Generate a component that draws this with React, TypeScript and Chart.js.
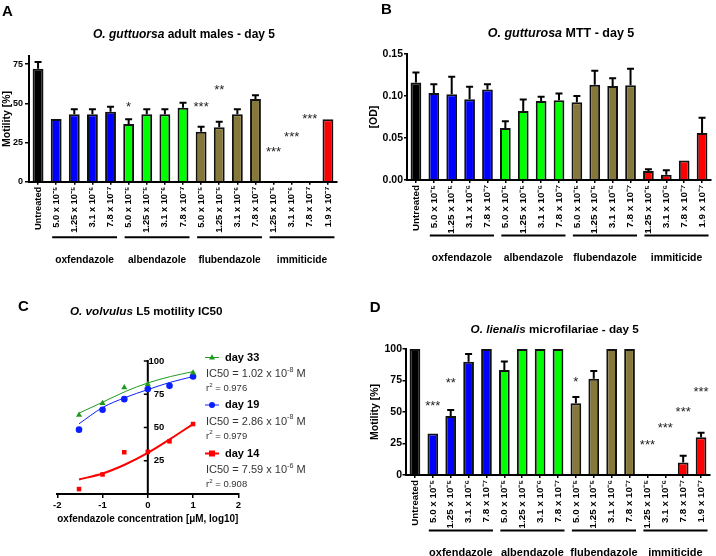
import React, { useEffect, useRef } from 'react';
import { Chart, registerables } from 'chart.js';

Chart.register(...registerables);

const FONT = "'Liberation Sans', Arial, Helvetica, sans-serif";

// ---------- shared categories (panels A, B, D) ----------
const categories = [
  'Untreated',
  '5.0 x 10⁻⁵', '1.25 x 10⁻⁵', '3.1 x 10⁻⁶', '7.8 x 10⁻⁷',
  '5.0 x 10⁻⁵', '1.25 x 10⁻⁵', '3.1 x 10⁻⁶', '7.8 x 10⁻⁷',
  '5.0 x 10⁻⁵', '1.25 x 10⁻⁵', '3.1 x 10⁻⁶', '7.8 x 10⁻⁷',
  '1.25 x 10⁻⁵', '3.1 x 10⁻⁶', '7.8 x 10⁻⁷', '1.9 x 10⁻⁷',
];
const groupNames = ['oxfendazole', 'albendazole', 'flubendazole', 'immiticide'];
const groupFirst = [1, 5, 9, 13];
const groupLast = [4, 8, 12, 16];

const BLACK = '#000000';
const BLUE = '#0000ff';
const LIME = '#00ff00';
const OLIVE = '#86783a';
const RED = '#ff0000';
const categoryColors = [
  BLACK, BLUE, BLUE, BLUE, BLUE, LIME, LIME, LIME, LIME,
  OLIVE, OLIVE, OLIVE, OLIVE, RED, RED, RED, RED,
];

// ---------- Panel A ----------
const motilityA = [72, 40, 43, 43, 44.6, 36.8, 43, 43, 47.2, 31.9, 34.7, 43, 52.7, 0, 0, 0, 39.8];
const errorA = [4.4, 0, 3.2, 3.2, 3.2, 3, 3.2, 3.2, 3.2, 3.1, 3.6, 3.2, 2.4, 0, 0, 0, 0];
const yTicksA = [0, 25, 50, 75];
const starTextA = ['*', '***', '**', '***', '***', '***'];
const starIdxA = [5, 9, 10, 13, 14, 15];
const starValA = [49.6, 49.6, 60.4, 20.9, 31, 41.9];

// ---------- Panel B ----------
const odB = [0.116, 0.1036, 0.102, 0.096, 0.1076, 0.062, 0.082, 0.094, 0.095, 0.0925, 0.1135, 0.112, 0.1127, 0.0107, 0.0063, 0.0233, 0.056];
const errorB = [0.012, 0.0104, 0.021, 0.015, 0.0064, 0.008, 0.0137, 0.005, 0.008, 0.0075, 0.0165, 0.009, 0.0198, 0.002, 0.0052, 0, 0.018];
const yTicksB = [0, 0.05, 0.1, 0.15];

// ---------- Panel D ----------
const motilityD = [100, 33, 46.8, 89.9, 100, 83.3, 100, 100, 100, 56.9, 76.4, 100, 100, 0, 0, 10, 29.9];
const errorD = [0, 0, 4.8, 6.1, 0, 6.7, 0, 0, 0, 5.1, 6.1, 0, 0, 0, 0, 5.3, 3.7];
const yTicksD = [0, 25, 50, 75, 100];
const starTextD = ['***', '**', '*', '***', '***', '***', '***'];
const starIdxD = [1, 2, 9, 13, 14, 15, 16];
const starValD = [57.1, 75.4, 76.2, 26.4, 39.7, 52.9, 68.8];

// ---------- Panel C ----------
const doseLog = [-1.52, -1.0, -0.52, 0, 0.48, 1.0];
const day33Points = [59.4, 68.3, 80.0, 82.5, null, 91.2];
const day19Points = [48.4, 63.3, 71.3, 79.0, 81.3, 88.3];
const day14Points = [3.7, 14.7, 31.4, 31.7, 39.6, 52.6];
const fitLog = [-1.52, -1.0, -0.5, 0, 0.5, 1.0];
const day33Fit = [60.8, 69.0, 77.0, 83.5, 88.3, 92.0];
const day19Fit = [52.8, 65.0, 72.5, 78.5, 84.0, 88.3];
const day14Fit = [10.9, 15.4, 22.2, 30.9, 41.4, 52.6];
const xTicksC = [-2, -1, 0, 1, 2];
const yTicksC = [25, 50, 75, 100];
const legendDays = ['day 33', 'day 19', 'day 14'];
const ic50Mantissa = ['1.02', '2.86', '7.59'];
const ic50Exponent = ['-8', '-8', '-6'];
const rSquared = ['0.976', '0.979', '0.908'];
const GREEN_C = '#1f9a1f';
const BLUE_C = '#0a1eff';
const RED_C = '#ff0000';
const legendColors = [GREEN_C, BLUE_C, RED_C];
const legendStyles = ['triangle', 'circle', 'rect'];
const legendLineW = [1, 1, 2];

// ---------- drawing helpers ----------
function drawTitle(ctx, italicPart, rest, x, y, size, align) {
  ctx.save();
  ctx.font = `italic bold ${size}px ${FONT}`;
  const w1 = ctx.measureText(italicPart).width;
  ctx.font = `bold ${size}px ${FONT}`;
  const w2 = ctx.measureText(rest).width;
  const start = align === 'left' ? x : x - (w1 + w2) / 2;
  ctx.textAlign = 'left';
  ctx.textBaseline = 'middle';
  ctx.fillStyle = '#000';
  ctx.font = `italic bold ${size}px ${FONT}`;
  ctx.fillText(italicPart, start, y);
  ctx.font = `bold ${size}px ${FONT}`;
  ctx.fillText(rest, start + w1, y);
  ctx.restore();
}

function drawLetter(ctx, letter, x, baseline) {
  ctx.save();
  ctx.font = `bold 15px ${FONT}`;
  ctx.fillStyle = '#000';
  ctx.textAlign = 'left';
  ctx.textBaseline = 'alphabetic';
  ctx.fillText(letter, x, baseline);
  ctx.restore();
}

function drawSupText(ctx, parts, x, y, size, color) {
  ctx.save();
  ctx.fillStyle = color;
  ctx.textAlign = 'left';
  ctx.textBaseline = 'middle';
  let cx = x;
  for (const [txt, sup] of parts) {
    const s = sup ? size * 0.65 : size;
    ctx.font = `${s}px ${FONT}`;
    ctx.fillText(txt, cx, sup ? y - size * 0.38 : y);
    cx += ctx.measureText(txt).width;
  }
  ctx.restore();
}

function drawMarker(ctx, style, x, y, r, color) {
  ctx.save();
  ctx.fillStyle = color;
  ctx.beginPath();
  if (style === 'triangle') {
    ctx.moveTo(x, y - r * 1.1);
    ctx.lineTo(x + r, y + r * 0.7);
    ctx.lineTo(x - r, y + r * 0.7);
    ctx.closePath();
  } else if (style === 'circle') {
    ctx.arc(x, y, r, 0, Math.PI * 2);
  } else {
    ctx.rect(x - r, y - r, 2 * r, 2 * r);
  }
  ctx.fill();
  ctx.restore();
}

// ---------- bar chart builder ----------
function makeBarConfig(o) {
  const errorPlugin = {
    id: 'errorBars',
    afterDatasetsDraw(chart) {
      const ctx = chart.ctx;
      const ys = chart.scales.y;
      const meta = chart.getDatasetMeta(0);
      ctx.save();
      ctx.strokeStyle = '#000';
      ctx.lineWidth = 2;
      meta.data.forEach((bar, i) => {
        const e = o.errors[i];
        if (!e) return;
        const y0 = ys.getPixelForValue(o.values[i]);
        const y1 = ys.getPixelForValue(o.values[i] + e);
        ctx.beginPath();
        ctx.moveTo(bar.x, y0);
        ctx.lineTo(bar.x, y1);
        ctx.moveTo(bar.x - 3.5, y1);
        ctx.lineTo(bar.x + 3.5, y1);
        ctx.stroke();
      });
      ctx.restore();
    },
  };
  const decorPlugin = {
    id: 'decor',
    afterDraw(chart) {
      const ctx = chart.ctx;
      const xs = chart.scales.x;
      const ys = chart.scales.y;
      const area = chart.chartArea;
      drawLetter(ctx, o.letter, o.letterX, o.letterY);
      drawTitle(ctx, o.titleItalic, o.titleRest, o.titleX, o.titleY, o.titleSize, 'center');
      ctx.save();
      ctx.strokeStyle = '#000';
      ctx.lineWidth = 2;
      ctx.fillStyle = '#000';
      ctx.font = `bold ${o.groupFont}px ${FONT}`;
      ctx.textAlign = 'center';
      ctx.textBaseline = 'middle';
      for (let g = 0; g < groupNames.length; g++) {
        const x1 = xs.getPixelForValue(groupFirst[g]) - 4;
        const x2 = xs.getPixelForValue(groupLast[g]) + 6.5;
        const ly = area.bottom + 55.6;
        ctx.beginPath();
        ctx.moveTo(x1, ly);
        ctx.lineTo(x2, ly);
        ctx.stroke();
        ctx.fillText(groupNames[g], (x1 + x2) / 2, area.bottom + 78);
      }
      ctx.restore();
      if (o.starText) {
        ctx.save();
        const size = 13;
        ctx.font = `${size}px ${FONT}`;
        ctx.fillStyle = '#222';
        ctx.textAlign = 'center';
        ctx.textBaseline = 'alphabetic';
        o.starText.forEach((t, k) => {
          const x = xs.getPixelForValue(o.starIdx[k]);
          const y = ys.getPixelForValue(o.starVal[k]);
          ctx.fillText(t, x, y + size * 0.57);
        });
        ctx.restore();
      }
    },
  };
  return {
    type: 'bar',
    data: {
      labels: categories,
      datasets: [
        {
          data: o.values,
          backgroundColor: categoryColors,
          borderColor: '#111',
          borderWidth: 2,
          barPercentage: 0.6,
          categoryPercentage: 1,
        },
      ],
    },
    options: {
      animation: false,
      responsive: false,
      devicePixelRatio: 1,
      layout: { padding: o.padding },
      plugins: { legend: { display: false }, tooltip: { enabled: false }, title: { display: false } },
      scales: {
        x: {
          offset: true,
          grid: { offset: false, drawOnChartArea: false, drawTicks: true, tickLength: 3, color: '#000', lineWidth: 1.5 },
          border: { color: '#000', width: 2 },
          ticks: {
            autoSkip: false,
            maxRotation: 90,
            minRotation: 90,
            padding: 2,
            color: '#000',
            font: { family: FONT, weight: 'bold', size: o.xFont },
          },
          afterFit: (s) => { s.height = 60; },
        },
        y: {
          min: 0,
          max: o.yMax,
          grid: { drawOnChartArea: false, drawTicks: true, tickLength: o.tickLen, color: '#000', lineWidth: 1.5 },
          border: { color: '#000', width: 2 },
          ticks: {
            padding: o.tickPad,
            color: '#000',
            font: { family: FONT, weight: 'bold', size: o.yFont },
            callback: o.fmt,
          },
          afterBuildTicks: (s) => { s.ticks = o.yTicks.map((v) => ({ value: v })); },
          afterFit: (s) => { s.width = o.yWidth; },
          title: {
            display: true,
            text: o.yTitle,
            color: '#000',
            font: { family: FONT, weight: 'bold', size: 10.5 },
            padding: { top: o.yTitlePad, bottom: 0 },
          },
        },
      },
    },
    plugins: [errorPlugin, decorPlugin],
  };
}

function configA() {
  return makeBarConfig({
    values: motilityA, errors: errorA, yTicks: yTicksA, yMax: 80,
    fmt: (v) => String(v), yFont: 9, xFont: 9.3, tickLen: 4, tickPad: 2,
    yWidth: 29, yTitle: 'Motility [%]', yTitlePad: 0.7,
    padding: { left: 0, right: 21, top: 56.3, bottom: 36.3 },
    letter: 'A', letterX: 2, letterY: 16,
    titleItalic: 'O. guttuorsa', titleRest: ' adult males - day 5', titleX: 184, titleY: 35, titleSize: 12,
    groupFont: 10.2,
    starText: starTextA, starIdx: starIdxA, starVal: starValA,
  });
}

function configB() {
  return makeBarConfig({
    values: odB, errors: errorB, yTicks: yTicksB, yMax: 0.15,
    fmt: (v) => Number(v).toFixed(2), yFont: 10.5, xFont: 9.9, tickLen: 3, tickPad: 1,
    yWidth: 49, yTitle: '[OD]', yTitlePad: 9.7,
    padding: { left: 0, right: 2, top: 54, bottom: 38 },
    letter: 'B', letterX: 23, letterY: 14,
    titleItalic: 'O. gutturosa', titleRest: ' MTT - day 5', titleX: 203, titleY: 34, titleSize: 12.5,
    groupFont: 10.4,
    starText: null,
  });
}

function configD() {
  return makeBarConfig({
    values: motilityD, errors: errorD, yTicks: yTicksD, yMax: 100,
    fmt: (v) => String(v), yFont: 10.5, xFont: 9.8, tickLen: 3.5, tickPad: 0.5,
    yWidth: 48, yTitle: 'Motility [%]', yTitlePad: 10.4,
    padding: { left: 0, right: 6, top: 71, bottom: 21 },
    letter: 'D', letterX: 11.7, letterY: 34.3,
    titleItalic: 'O. lienalis', titleRest: ' microfilariae - day 5', titleX: 196.7, titleY: 52, titleSize: 11.7,
    groupFont: 11,
    starText: starTextD, starIdx: starIdxD, starVal: starValD,
  });
}

function configC() {
  const pts = (ys) => doseLog.map((x, i) => (ys[i] == null ? null : { x, y: ys[i] })).filter(Boolean);
  const fit = (ys) => fitLog.map((x, i) => ({ x, y: ys[i] }));
  const pointSet = (ys, style, color, r) => ({
    data: pts(ys), pointStyle: style, pointRadius: r, pointBorderWidth: 0,
    backgroundColor: color, borderColor: color, showLine: false, order: 0, clip: false,
  });
  const fitSet = (ys, color, w) => ({
    data: fit(ys), showLine: true, pointRadius: 0, borderColor: color, backgroundColor: color,
    borderWidth: w, cubicInterpolationMode: 'monotone', order: 1, clip: false,
  });
  const yAxisPlugin = {
    id: 'cYAxis',
    beforeDatasetsDraw(chart) {
      const ctx = chart.ctx;
      const xs = chart.scales.x;
      const ys = chart.scales.y;
      const x0 = xs.getPixelForValue(0);
      ctx.save();
      ctx.strokeStyle = '#000';
      ctx.lineWidth = 2;
      ctx.beginPath();
      ctx.moveTo(x0, ys.getPixelForValue(100) - 1);
      ctx.lineTo(x0, ys.getPixelForValue(0));
      ctx.stroke();
      ctx.lineWidth = 1.5;
      ctx.fillStyle = '#000';
      ctx.font = `bold 9.5px ${FONT}`;
      ctx.textAlign = 'right';
      ctx.textBaseline = 'middle';
      yTicksC.forEach((v) => {
        const y = ys.getPixelForValue(v);
        ctx.beginPath();
        ctx.moveTo(x0 - 4, y);
        ctx.lineTo(x0, y);
        ctx.stroke();
        ctx.fillText(String(v), x0 + 16.5, y);
      });
      ctx.restore();
    },
  };
  const decorPlugin = {
    id: 'cDecor',
    afterDraw(chart) {
      const ctx = chart.ctx;
      drawLetter(ctx, 'C', 18, 32.5);
      drawTitle(ctx, 'O. volvulus', ' L5 motility IC50', 70, 34, 11.7, 'left');
      ctx.save();
      const rowY = [79.5, 127, 175.5];
      for (let k = 0; k < 3; k++) {
        const y = rowY[k];
        ctx.strokeStyle = legendColors[k];
        ctx.lineWidth = legendLineW[k];
        ctx.beginPath();
        ctx.moveTo(205, y);
        ctx.lineTo(219, y);
        ctx.stroke();
        drawMarker(ctx, legendStyles[k], 212, y, 3, legendColors[k]);
        ctx.fillStyle = '#000';
        ctx.font = `bold 11px ${FONT}`;
        ctx.textAlign = 'left';
        ctx.textBaseline = 'middle';
        ctx.fillText(legendDays[k], 225, y);
        drawSupText(ctx, [['IC50 = ' + ic50Mantissa[k] + ' x 10', false], [ic50Exponent[k], true], [' M', false]], 206, y + 16.5, 11, '#333');
        drawSupText(ctx, [['r', false], ['2', true], [' = ' + rSquared[k], false]], 206, y + 31, 9.5, '#333');
      }
      ctx.restore();
    },
  };
  return {
    type: 'scatter',
    data: {
      datasets: [
        pointSet(day33Points, 'triangle', GREEN_C, 3.5),
        pointSet(day19Points, 'circle', BLUE_C, 3.3),
        pointSet(day14Points, 'rect', RED_C, 3.2),
        fitSet(day33Fit, GREEN_C, 1),
        fitSet(day19Fit, BLUE_C, 1),
        fitSet(day14Fit, RED_C, 2),
      ],
    },
    options: {
      animation: false,
      responsive: false,
      devicePixelRatio: 1,
      layout: { padding: { left: 57.3, right: 119.7, top: 83, bottom: 28 } },
      plugins: { legend: { display: false }, tooltip: { enabled: false }, title: { display: false } },
      scales: {
        x: {
          type: 'linear',
          min: -2,
          max: 2,
          grid: { drawOnChartArea: false, drawTicks: true, tickLength: 4, color: '#000', lineWidth: 1.5 },
          border: { color: '#000', width: 2 },
          ticks: { padding: 1.5, color: '#000', font: { family: FONT, weight: 'bold', size: 9.5 } },
          afterBuildTicks: (s) => { s.ticks = xTicksC.map((v) => ({ value: v })); },
          afterFit: (s) => { s.height = 34; },
          title: {
            display: true,
            text: 'oxfendazole concentration [μM, log10]',
            color: '#000',
            font: { family: FONT, weight: 'bold', size: 11 },
            padding: { top: 0, bottom: 2 },
          },
        },
        y: { type: 'linear', min: 0, max: 100, display: false },
      },
    },
    plugins: [yAxisPlugin, decorPlugin],
  };
}

function Panel({ left, top, build }) {
  const ref = useRef(null);
  useEffect(() => {
    const chart = new Chart(ref.current, build());
    return () => chart.destroy();
  }, []);
  return (
    <canvas
      ref={ref}
      width={358}
      height={278}
      style={{ position: 'absolute', left, top, width: 358, height: 278 }}
    />
  );
}

export default function App() {
  return (
    <div style={{ position: 'absolute', left: 0, top: 0, width: 716, height: 556, background: '#fff', overflow: 'hidden' }}>
      <Panel left={0} top={0} build={configA} />
      <Panel left={358} top={0} build={configB} />
      <Panel left={0} top={278} build={configC} />
      <Panel left={358} top={278} build={configD} />
    </div>
  );
}
